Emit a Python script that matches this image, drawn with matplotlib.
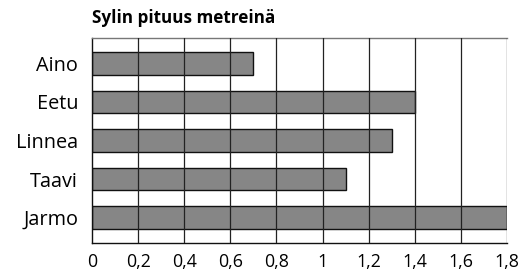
import matplotlib.pyplot as plt
import numpy as np

names = ['Aino', 'Eetu', 'Linnea', 'Taavi', 'Jarmo']
lengths = [0.7, 1.4, 1.3, 1.1, 1.8]
ticks = [0, 0.2, 0.4, 0.6, 0.8, 1.0, 1.2, 1.4, 1.6, 1.8]
tick_labels = ['0', '0,2', '0,4', '0,6', '0,8', '1', '1,2', '1,4', '1,6', '1,8']

plt.rcParams['font.family'] = ['Open Sans', 'DejaVu Sans']

fig = plt.figure(figsize=(5.24, 2.73), dpi=100)
ax = fig.add_axes([92/524, 30/273, 415/524, 205/273])

y = np.arange(len(names))
ax.barh(y, lengths, height=0.58, color='#868686', edgecolor='#111111', linewidth=1.0, zorder=2)

# gridlines sit on top of the bars in the original
for t in ticks[1:]:
    ax.axvline(t, color='#222222', linewidth=0.9, zorder=3)

ax.set_xlim(0, 1.8)
ax.set_ylim(4.66, -0.66)
ax.set_yticks(y)
ax.set_yticklabels(names, fontsize=14.3)
ax.set_xticks(ticks)
ax.set_xticklabels(tick_labels, fontsize=12.8)
ax.tick_params(axis='y', length=0, pad=10)
ax.tick_params(axis='x', length=0, pad=7)

ax.spines['right'].set_visible(False)
ax.spines['top'].set_color('#777777')
ax.spines['left'].set_color('#111111')
ax.spines['bottom'].set_color('#111111')
for s in ax.spines.values():
    s.set_linewidth(1.0)

fig.text(92/524, 1 - 18/273, 'Sylin pituus metreinä', fontsize=12.3, fontweight='bold',
         ha='left', va='center')

fig.savefig('out.png', dpi=100)
